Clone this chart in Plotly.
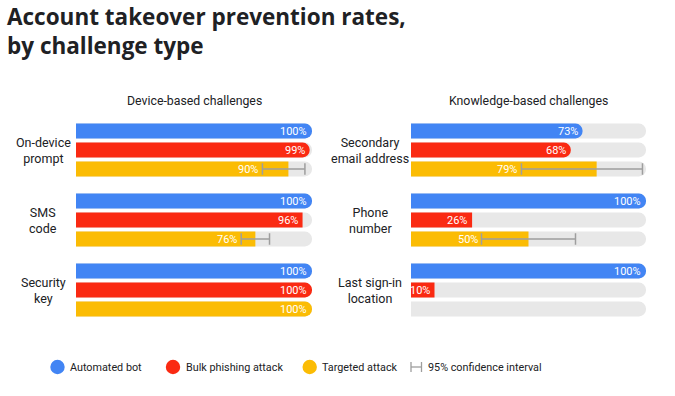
import plotly.graph_objects as go

# ---- data ----
series = ["Automated bot", "Bulk phishing attack", "Targeted attack"]
colors = ["#4285F4", "#FA2A12", "#FBBC04"]

device_challenges = ["On-device<br>prompt", "SMS<br>code", "Security<br>key"]
device_bot = [100, 100, 100]
device_bulk = [99, 96, 100]
device_targeted = [90, 76, 100]
device_ci_low = [79, 70, None]
device_ci_high = [97, 82, None]

knowledge_challenges = ["Secondary<br>email address", "Phone<br>number", "Last sign-in<br>location"]
knowledge_bot = [73, 100, 100]
knowledge_bulk = [68, 26, 10]
knowledge_targeted = [79, 50, None]
knowledge_ci_low = [47, 30, None]
knowledge_ci_high = [98.5, 70, None]

panel_titles = ["Device-based challenges", "Knowledge-based challenges"]
title_text = "Account takeover prevention rates,<br>by challenge type"

# ---- layout geometry (body margin removed via post_script) ----
FW, FH = 675, 396


def px(x):
    return x / FW


def py(y):
    return 1 - y / FH


GROUP_STEP = 70 / 19.0
row_px = 19.0
first_center_px = 131.0
y_lo, y_hi = -0.6, 2 * GROUP_STEP + 2 + 0.6
top_px = first_center_px + y_lo * row_px
bot_px = first_center_px + y_hi * row_px
ydom = [py(bot_px), py(top_px)]
xdoms = [[px(76), px(312)], [px(411), px(646)]]

FONT = "Roboto, Inter, Arial, sans-serif"
fig = go.Figure()
annotations = []
shapes = []

panels = [
    (device_challenges, [device_bot, device_bulk, device_targeted], device_ci_low, device_ci_high),
    (knowledge_challenges, [knowledge_bot, knowledge_bulk, knowledge_targeted], knowledge_ci_low, knowledge_ci_high),
]

for p, (cats, vals, lo, hi) in enumerate(panels):
    xa = "x" if p == 0 else "x2"
    ya = "y" if p == 0 else "y2"
    ys_all = [g * GROUP_STEP + s for g in range(3) for s in range(3)]
    # gray tracks
    fig.add_trace(go.Bar(x=[100] * 9, y=ys_all, orientation="h", width=0.78,
                         marker=dict(color="#E8E8E8", cornerradius=7, line_width=0),
                         xaxis=xa, yaxis=ya, showlegend=False, hoverinfo="skip"))
    for s in range(3):
        xs, ys = [], []
        for g in range(3):
            v = vals[s][g]
            if v is None:
                continue
            xs.append(v)
            ys.append(g * GROUP_STEP + s)
        fig.add_trace(go.Bar(x=xs, y=ys, orientation="h", width=0.78,
                             marker=dict(color=colors[s], cornerradius=7, line_width=0),
                             xaxis=xa, yaxis=ya, showlegend=False, name=series[s]))
        for g in range(3):
            v = vals[s][g]
            if v is None:
                continue
            yv = g * GROUP_STEP + s
            anchor_x = v
            if s == 2 and lo[g] is not None:
                anchor_x = min(v, lo[g])
            annotations.append(dict(x=anchor_x, y=yv, xref=xa, yref=ya, text=f"{v}%",
                                    showarrow=False, xanchor="right", yanchor="middle",
                                    xshift=-2 if anchor_x != v else -3,
                                    font=dict(family=FONT, size=11, color="white")))
    # confidence intervals
    ci_x, ci_y = [], []
    for g in range(3):
        if lo[g] is None:
            continue
        yv = g * GROUP_STEP + 2
        ci_x += [lo[g], hi[g], None]
        ci_y += [yv, yv, None]
        for xx in (lo[g], hi[g]):
            ci_x += [xx, xx, None]
            ci_y += [yv - 0.3, yv + 0.3, None]
    fig.add_trace(go.Scatter(x=ci_x, y=ci_y, mode="lines", line=dict(color="#9E9E9E", width=1.5),
                             xaxis=xa, yaxis=ya, showlegend=False, hoverinfo="skip"))
    # category labels
    cx = 43 if p == 0 else 370
    for g in range(3):
        annotations.append(dict(x=px(cx), y=py(first_center_px + (g * GROUP_STEP + 1) * row_px),
                                xref="paper", yref="paper", text=cats[g], showarrow=False,
                                xanchor="center", yanchor="middle", align="center",
                                font=dict(family=FONT, size=12.5, color="#202124")))
    # panel titles
    tx = 194 if p == 0 else 528
    annotations.append(dict(x=px(tx), y=py(101), xref="paper", yref="paper",
                            text=panel_titles[p], showarrow=False, xanchor="center",
                            yanchor="middle", font=dict(family=FONT, size=12.3, color="#202124")))

# title
annotations.append(dict(x=px(6), y=1, xref="paper", yref="paper",
                        text=f"<b>{title_text}</b>", showarrow=False, xanchor="left", yanchor="top",
                        align="left", borderpad=0,
                        font=dict(family="Open Sans, Inter, sans-serif", size=22.5, color="#202124")))

# legend
leg_y = py(367)
circle_cx = [57.5, 173, 309.7]
text_x = [68, 184, 320]
r = 7.2
for i in range(3):
    shapes.append(dict(type="circle", xref="paper", yref="paper",
                       x0=px(circle_cx[i] - r), x1=px(circle_cx[i] + r),
                       y0=py(367 + r), y1=py(367 - r),
                       fillcolor=colors[i], line_width=0))
    annotations.append(dict(x=px(text_x[i]), y=leg_y, xref="paper", yref="paper", text=series[i],
                            showarrow=False, xanchor="left", yanchor="middle",
                            font=dict(family=FONT, size=10.8, color="#202124")))
# CI legend icon
ci_x0, ci_x1 = px(411), px(421.5)
shapes.append(dict(type="line", xref="paper", yref="paper", x0=ci_x0, x1=ci_x1, y0=leg_y, y1=leg_y,
                   line=dict(color="#9E9E9E", width=1.3)))
for xx in (ci_x0, ci_x1):
    shapes.append(dict(type="line", xref="paper", yref="paper", x0=xx, x1=xx,
                       y0=py(372), y1=py(362), line=dict(color="#9E9E9E", width=1.3)))
annotations.append(dict(x=px(426), y=leg_y, xref="paper", yref="paper", text="95% confidence interval",
                        showarrow=False, xanchor="left", yanchor="middle",
                        font=dict(family=FONT, size=10.8, color="#202124")))

axis_common = dict(range=[0, 100], showgrid=False, zeroline=False, showticklabels=False,
                   showline=False, fixedrange=True)
yaxis_common = dict(range=[y_hi, y_lo], showgrid=False, zeroline=False, showticklabels=False,
                    showline=False, domain=ydom, fixedrange=True)

fig.update_layout(
    width=FW, height=FH,
    margin=dict(l=0, r=0, t=0, b=0),
    paper_bgcolor="white", plot_bgcolor="white",
    barmode="overlay",
    xaxis=dict(domain=xdoms[0], anchor="y", **axis_common),
    yaxis=dict(anchor="x", **yaxis_common),
    xaxis2=dict(domain=xdoms[1], anchor="y2", **axis_common),
    yaxis2=dict(anchor="x2", **yaxis_common),
    annotations=annotations,
    shapes=shapes,
    showlegend=False,
)

fig.write_html("out.html", config={"displayModeBar": False},
               post_script="document.body.style.margin='0px';document.body.style.overflow='hidden';")
